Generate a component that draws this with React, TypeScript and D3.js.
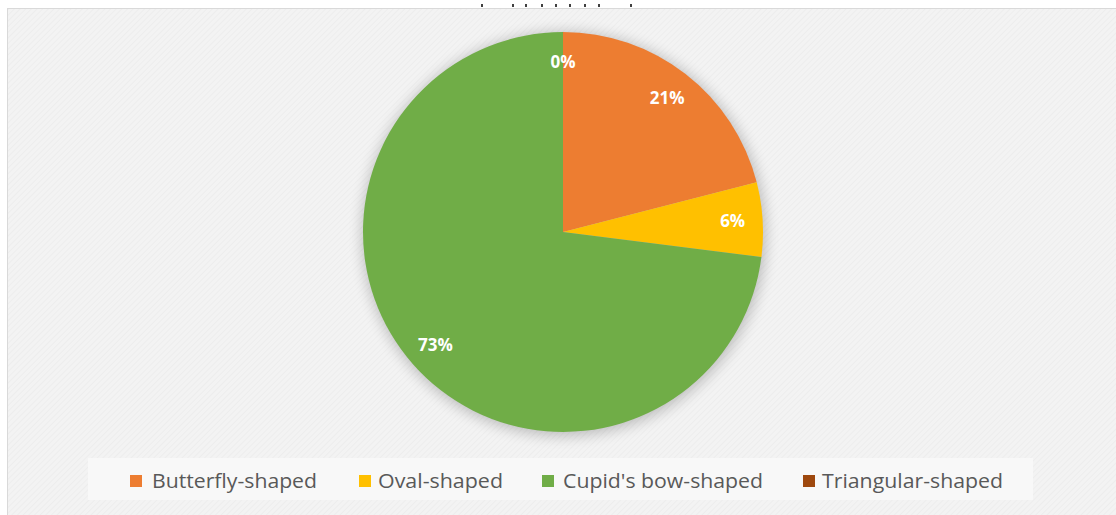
import React, { useEffect } from "react";
import * as d3 from "d3";

const categories = ["Butterfly-shaped", "Oval-shaped", "Cupid's bow-shaped", "Triangular-shaped"];
const values = [21, 6, 73, 0];
const labels = ["21%", "6%", "73%", "0%"];
const colors = ["#ED7D31", "#FFC000", "#70AD47", "#9E480E"];

const W = 1116;
const H = 515;
const CX = 563;
const CY = 232;
const R = 200;
const LABEL_R = 170;

// legend layout (marker x, text x, text width)
const legendItems = [
  { mx: 130, tx: 152, tw: 165 },
  { mx: 359, tx: 378, tw: 125 },
  { mx: 542, tx: 563, tw: 200 },
  { mx: 803, tx: 822, tw: 181 },
];

export default function App() {
  useEffect(() => {
    document.body.style.margin = "0";
  }, []);

  const pie = d3
    .pie<number>()
    .sort(null)
    .value((d) => d)(values);
  const arc = d3.arc<d3.PieArcDatum<number>>().innerRadius(0).outerRadius(R);
  const labelArc = d3.arc<d3.PieArcDatum<number>>().innerRadius(LABEL_R).outerRadius(LABEL_R);

  return (
    <svg width={W} height={H} style={{ display: "block" }}>
      <defs>
        <pattern id="hatch" width="4" height="4" patternUnits="userSpaceOnUse" patternTransform="rotate(45)">
          <rect width="4" height="4" fill="#f3f3f3" />
          <line x1="0" y1="0" x2="0" y2="4" stroke="#ebebeb" strokeWidth="1.5" />
        </pattern>
        <filter id="shadow" x="-30%" y="-30%" width="160%" height="160%">
          <feGaussianBlur stdDeviation="7" />
        </filter>
      </defs>
      <rect x={0} y={0} width={W} height={H} fill="#ffffff" />
      <rect x={7.5} y={8.5} width={W} height={H} fill="url(#hatch)" stroke="#d9d9d9" strokeWidth={1} />
      {[481, 512, 525, 541, 555, 569, 584, 598, 630].map((x, i) => (
        <rect key={i} x={x} y={4} width={2} height={3} fill="#404040" />
      ))}
      <circle cx={CX + 1} cy={CY + 2} r={R + 2} fill="#000" opacity={0.22} filter="url(#shadow)" />
      <g transform={`translate(${CX},${CY})`}>
        {pie.map((p, i) => (
          <path key={i} d={arc(p) || ""} fill={colors[i]} />
        ))}
        {pie.map((p, i) => {
          const [x, y] = labelArc.centroid(p);
          return (
            <text
              key={"l" + i}
              x={x}
              y={y}
              dy="0.36em"
              textAnchor="middle"
              fill="#ffffff"
              fontFamily="'Open Sans', sans-serif"
              fontWeight={700}
              fontSize={17}
            >
              {labels[i]}
            </text>
          );
        })}
      </g>
      <rect x={88} y={458} width={945} height={42} fill="#f8f8f8" />
      {categories.map((c, i) => (
        <g key={c}>
          <rect x={legendItems[i].mx} y={475} width={12} height={12} fill={colors[i]} />
          <text
            x={legendItems[i].tx}
            y={488}
            fill="#595959"
            fontFamily="'Open Sans', sans-serif"
            fontSize={20}
            textLength={legendItems[i].tw}
            lengthAdjust="spacingAndGlyphs"
          >
            {c}
          </text>
        </g>
      ))}
    </svg>
  );
}
